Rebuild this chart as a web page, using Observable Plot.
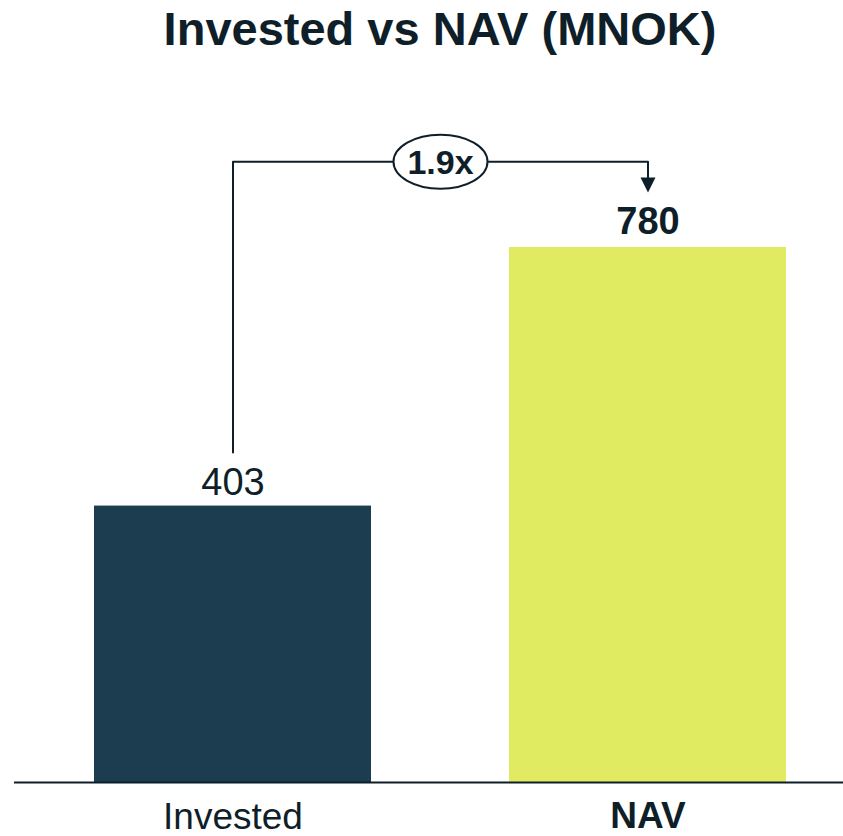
<!DOCTYPE html>
<html>
<head>
<meta charset="utf-8">
<script src="https://cdn.jsdelivr.net/npm/d3@7"></script>
<script src="https://cdn.jsdelivr.net/npm/@observablehq/plot@0.6"></script>
<style>
  html, body { margin: 0; padding: 0; background: #ffffff; }
  body { width: 843px; height: 836px; overflow: hidden; font-family: "Liberation Sans", Arial, sans-serif; color: #0f1f29; }
  #title { height: 70px; box-sizing: border-box; padding-top: 5px; padding-left: 37px; text-align: center; font-size: 47px; line-height: 47px; font-weight: 700; }
</style>
</head>
<body>
<div id="title">Invested vs NAV (MNOK)</div>
<div id="chart"></div>
<script>
// Data
const categories = ["Invested", "NAV"];
const values = [403, 780];
const barColors = ["#1c3d4f", "#e0eb62"];
const multipleLabel = (values[1] / values[0]).toFixed(1) + "x";

const data = categories.map((c, i) => ({category: c, value: values[i]}));

// bracket path (in data units)
const bracketTop = 905;
const bracketStart = 481;
const arrowTop = 882;
const arrowTip = 860;
const bracket = [
  {category: categories[0], v: bracketStart},
  {category: categories[0], v: bracketTop},
  {category: categories[1], v: bracketTop},
  {category: categories[1], v: arrowTop}
];

const ink = "#0f1f29";

// custom symbols
const ellipseSymbol = {
  draw(ctx) {
    const rx = 47, ry = 27, k = 0.5523;
    ctx.moveTo(-rx, 0);
    ctx.bezierCurveTo(-rx, -ry * k, -rx * k, -ry, 0, -ry);
    ctx.bezierCurveTo(rx * k, -ry, rx, -ry * k, rx, 0);
    ctx.bezierCurveTo(rx, ry * k, rx * k, ry, 0, ry);
    ctx.bezierCurveTo(-rx * k, ry, -rx, ry * k, -rx, 0);
    ctx.closePath();
  }
};
const arrowSymbol = {
  draw(ctx) {
    ctx.moveTo(-7.5, -15);
    ctx.lineTo(7.5, -15);
    ctx.lineTo(0, 0);
    ctx.closePath();
  }
};

// shift a mark to the midpoint between the two bands
function toMiddle(index, scales, vals, dims, context, next) {
  const step = scales.x(categories[1]) - scales.x(categories[0]);
  const X = Array.from(vals.x, (x) => x + step / 2);
  return next(index, scales, {...vals, x: X}, dims, context);
}

const mid = [{category: categories[0], v: bracketTop, label: multipleLabel}];

const chart = Plot.plot({
  width: 843,
  height: 766,
  marginTop: 0,
  marginBottom: 54,
  marginLeft: 14,
  marginRight: 0,
  style: {fontFamily: "'Liberation Sans', Arial, sans-serif", background: "#ffffff", color: ink},
  x: {domain: categories, paddingInner: 0.332, paddingOuter: 0.1625, align: 0.585, axis: null},
  y: {domain: [0, 1038], axis: null},
  color: {domain: categories, range: barColors},
  marks: [
    Plot.barY(data, {x: "category", y: "value", fill: "category"}),
    Plot.ruleY([0], {stroke: ink, strokeWidth: 2}),
    // value labels
    Plot.text(data.filter(d => d.category === categories[0]), {x: "category", y: "value", text: d => String(d.value), dy: -11, lineAnchor: "bottom", fontSize: 38, fontWeight: 400, fill: ink}),
    Plot.text(data.filter(d => d.category === categories[1]), {x: "category", y: "value", text: d => String(d.value), dy: -13, lineAnchor: "bottom", fontSize: 38, fontWeight: 700, fill: ink}),
    // category labels
    Plot.text(data.filter(d => d.category === categories[0]), {x: "category", y: 0, text: "category", dy: 46, lineAnchor: "bottom", fontSize: 37, fontWeight: 400, fill: ink}),
    Plot.text(data.filter(d => d.category === categories[1]), {x: "category", y: 0, text: "category", dy: 45, lineAnchor: "bottom", fontSize: 37, fontWeight: 700, fill: ink}),
    // bracket
    Plot.line(bracket, {x: "category", y: "v", stroke: ink, strokeWidth: 2, curve: "linear"}),
    Plot.dot([{category: categories[1], v: arrowTip}], {x: "category", y: "v", symbol: arrowSymbol, r: 8, fill: ink, stroke: "none"}),
    Plot.dot(mid, {x: "category", y: "v", symbol: ellipseSymbol, r: 20, fill: "#ffffff", stroke: ink, strokeWidth: 2, render: toMiddle}),
    Plot.text(mid, {x: "category", y: "v", text: "label", fontSize: 34, fontWeight: 700, fill: ink, dy: 1, render: toMiddle})
  ]
});
document.getElementById("chart").appendChild(chart);
</script>
</body>
</html>
